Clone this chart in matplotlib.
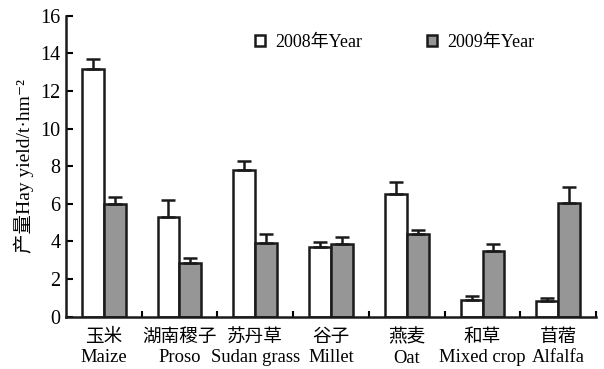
import matplotlib
matplotlib.use("Agg")
import matplotlib.pyplot as plt
import numpy as np
from matplotlib.patches import Patch

plt.rcParams['font.family'] = ['Liberation Serif', 'Noto Sans CJK SC', 'DejaVu Serif']

categories_cn = ["玉米", "湖南稷子", "苏丹草", "谷子", "燕麦", "和草", "苜蓿"]
categories_en = ["Maize", "Proso", "Sudan grass", "Millet", "Oat", "Mixed crop", "Alfalfa"]
yield_2008 = [13.15, 5.30, 7.80, 3.68, 6.50, 0.89, 0.82]
err_2008 = [0.55, 0.92, 0.50, 0.27, 0.65, 0.20, 0.15]
yield_2009 = [5.97, 2.85, 3.93, 3.86, 4.42, 3.47, 6.07]
err_2009 = [0.37, 0.29, 0.48, 0.36, 0.18, 0.37, 0.83]
legend_labels = ["2008年Year", "2009年Year"]
yticks = [0, 2, 4, 6, 8, 10, 12, 14, 16]

fig = plt.figure(figsize=(6.04, 3.69), dpi=100)
ax = fig.add_axes([0.109, 0.142, 0.878, 0.815])

n = len(categories_cn)
x = np.arange(n) + 0.5
w = 0.29
c2008 = 'white'
c2009 = '#969696'
lw = 1.8

ax.bar(x - w / 2, yield_2008, w, color=c2008, edgecolor='#1a1a1a', linewidth=lw,
       yerr=[np.zeros(n), err_2008], error_kw=dict(ecolor='#1a1a1a', elinewidth=lw, capsize=5, capthick=lw))
ax.bar(x + w / 2, yield_2009, w, color=c2009, edgecolor='#1a1a1a', linewidth=lw,
       yerr=[np.zeros(n), err_2009], error_kw=dict(ecolor='#1a1a1a', elinewidth=lw, capsize=5, capthick=lw))

ax.set_xlim(0, n)
ax.set_ylim(0, 16)
ax.set_yticks(yticks)
ax.set_yticklabels([str(t) for t in yticks], fontsize=14.5)
ax.set_xticks(x)
ax.set_xticklabels([f"{c}\n{e}" for c, e in zip(categories_cn, categories_en)], fontsize=13.4, linespacing=1.25)
ax.set_xticks(np.arange(1, n + 1), minor=True)
ax.tick_params(axis='x', which='major', length=0, pad=9)
ax.tick_params(axis='x', which='minor', direction='in', length=4, width=1.5)
ax.tick_params(axis='y', direction='in', length=5, width=1.5, pad=4)

for s in ['top', 'right']:
    ax.spines[s].set_visible(False)
for s in ['left', 'bottom']:
    ax.spines[s].set_linewidth(lw)
    ax.spines[s].set_color('#1a1a1a')

ax.set_ylabel("产量Hay yield/t·hm⁻²", fontsize=14)
ax.yaxis.set_label_coords(-0.06, 0.5)

handles = [Patch(facecolor=c2008, edgecolor='#1a1a1a', linewidth=lw),
           Patch(facecolor=c2009, edgecolor='#1a1a1a', linewidth=lw)]
ax.legend(handles, legend_labels, loc='center left', bbox_to_anchor=(0.357, 0.913), ncol=2,
          frameon=False, fontsize=13, handlelength=0.55, handleheight=0.55, handletextpad=0.55,
          columnspacing=3.6, borderpad=0, borderaxespad=0)

fig.savefig("out.png", dpi=100)
